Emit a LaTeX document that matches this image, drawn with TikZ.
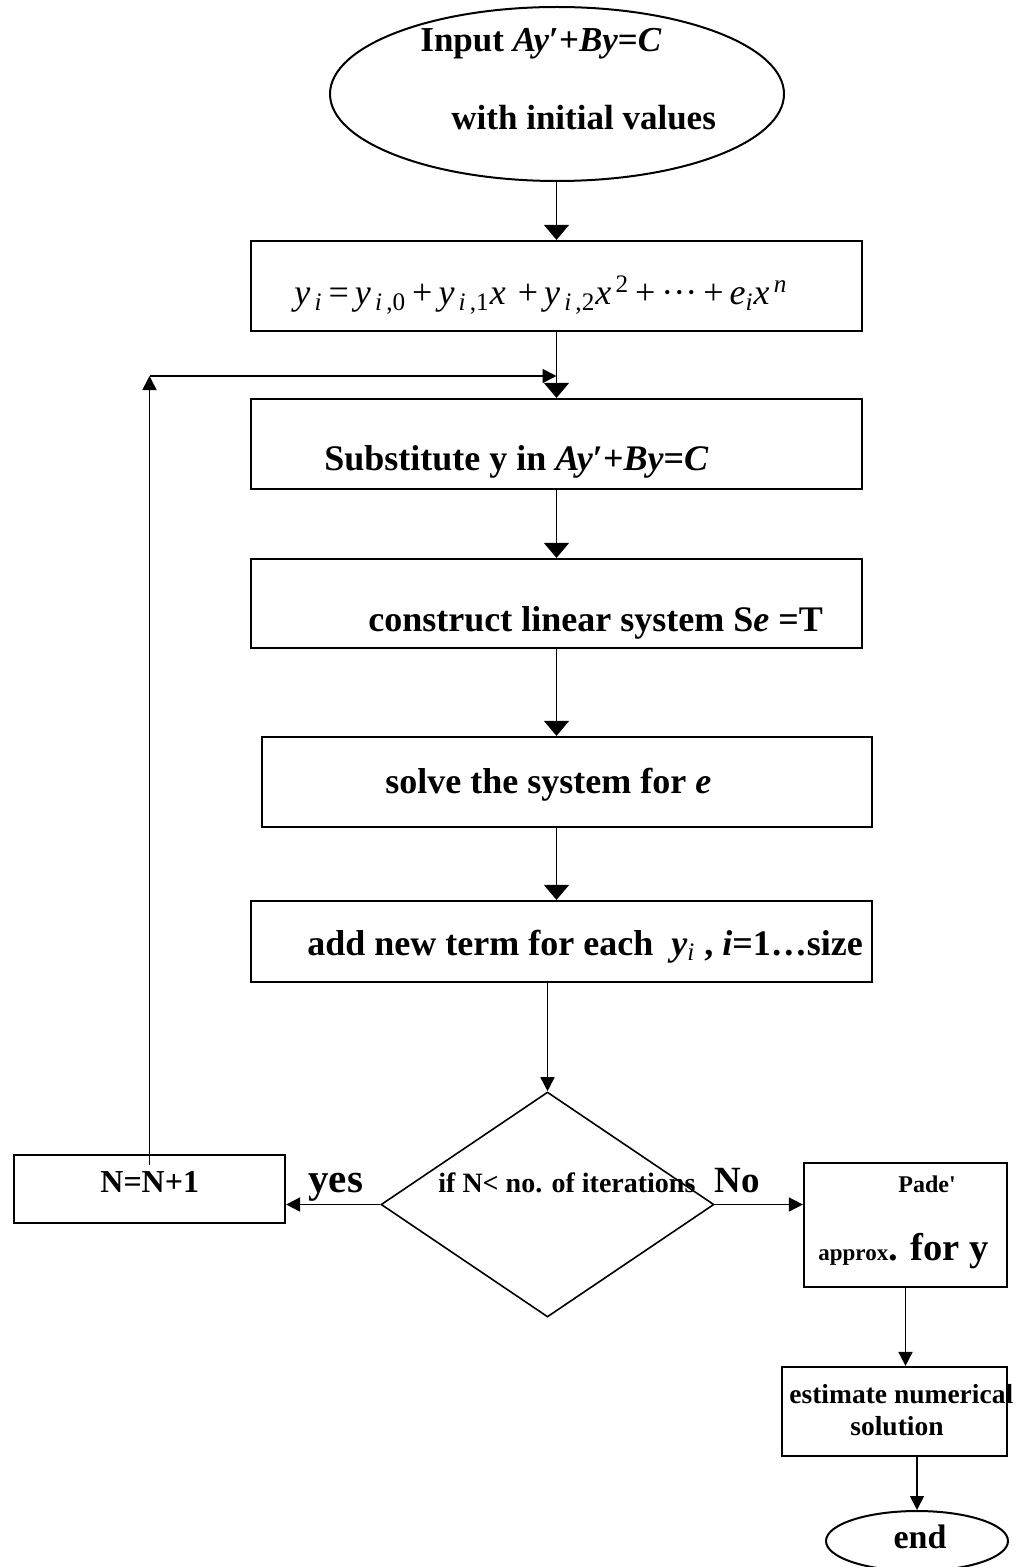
\documentclass[tikz,border=0pt]{standalone}
\usepackage{fontspec}
\setmainfont{Liberation Serif}
\usetikzlibrary{shapes.geometric,arrows.meta,calc}
\newcommand{\fsz}[1]{\fontsize{#1pt}{#1pt}\selectfont}
\newcommand{\vi}[1]{\textit{#1}}
\begin{document}
\begin{tikzpicture}[x=0.5pt,y=-0.5pt,
  rbox/.style 2 args={draw,line width=1.1pt,inner sep=0pt,minimum width=#1*0.5pt,minimum height=#2*0.5pt},
  oval/.style 2 args={draw,ellipse,line width=1pt,inner sep=0pt,minimum width=#1*0.5pt,minimum height=#2*0.5pt},
  txt/.style={inner sep=0pt,anchor=base west},
  ctxt/.style={inner sep=0pt,anchor=base},
  arr/.style={line width=0.8pt,-{Triangle[length=7.5pt,width=12.5pt]}},
  sarr/.style={line width=0.8pt,-{Triangle[length=7pt,width=7pt]}}]
\useasboundingbox (0,0) rectangle (1018,1567);
% shapes
\node[oval={454}{174}] (start) at (557,94) {};
\node[rbox={611}{90}] (b1) at (556.5,286) {};
\node[rbox={611}{90}] (b2) at (556.5,444) {};
\node[rbox={611}{89}] (b3) at (556.5,603.5) {};
\node[rbox={610}{90}] (b4) at (567,782) {};
\node[rbox={621}{81}] (b5) at (561.5,941.5) {};
\node[draw,diamond,line width=0.8pt,inner sep=0pt,minimum width=333*0.5pt,minimum height=225*0.5pt] (dia) at (547.5,1204.5) {};
\node[rbox={271}{68}] (nbox) at (149.5,1189) {};
\node[rbox={203}{124}] (pade) at (905.5,1225) {};
\node[rbox={225}{89}] (est) at (894.5,1411.5) {};
\node[oval={182}{60}] (end) at (917,1541) {};
% texts
\node[txt,font=\fsz{17.5}\bfseries] (t1) at (420,52) {Input \vi{Ay}′+\vi{By}=\vi{C}};
\node[txt,font=\fsz{17.5}\bfseries] (t2) at (451,130) {with initial values};
\node[txt,font=\fsz{18}] (t3) at (294,305) {\vi{y}\textsubscript{\,\vi{i}}\,=\,\vi{y}\textsubscript{\,\vi{i}\,,0}\,+\,\vi{y}\textsubscript{\,\vi{i}\,,1}\vi{x}\,\,+\,\vi{y}\textsubscript{\,\vi{i}\,,2}\vi{x}\textsuperscript{\,2}\,+\,···\,+\,\vi{e}\textsubscript{\vi{i}}\vi{x}\textsuperscript{\,\vi{n}}};
\node[txt,font=\fsz{18}\bfseries] (t4) at (324,470) {Substitute y in \vi{Ay}′+\vi{By}=\vi{C}};
\node[txt,font=\fsz{18}\bfseries] (t5) at (368,631) {construct linear system S\vi{e} =T};
\node[txt,font=\fsz{18}\bfseries] (t6) at (385,793) {solve the system for \vi{e}};
\node[txt,font=\fsz{18}\bfseries] (t7) at (307,955) {add new term for each \ {\vi{y}\textsubscript{\mdseries\vi{i}}} , \vi{i}=1…size};
\node[txt,font=\fsz{16}\bfseries] (t8) at (100,1192) {N=N+1};
\node[txt,font=\fsz{20.5}\bfseries] (t9) at (308,1192) {yes};
\node[txt,font=\fsz{14}\bfseries] (t10) at (438,1192) {if N< no. of iterations};
\node[txt,font=\fsz{18.5}\bfseries] (t11) at (714,1192) {No};
\node[txt,font=\fsz{12}\bfseries] (t12) at (898,1192) {Pade\textquotesingle};
\node[txt,font=\bfseries] (t13) at (818,1260) {{\fsz{11.5}approx}{\fsz{19.3}. for y}};
\node[txt,font=\fsz{13.75}\bfseries] (t14) at (789,1403) {estimate numerical};
\node[ctxt,font=\fsz{13.75}\bfseries] (t15) at (897,1435) {solution};
\node[ctxt,font=\fsz{17}\bfseries] (t16) at (920,1548) {end};
% connectors
\coordinate (loopstart) at ($(nbox.north)+(0,11)$);
\coordinate (corner) at (nbox.north |- 0,376);
\draw[arr] (start.south -| b1.north) -- (b1.north);
\draw[arr] (b1.south) -- (b2.north);
\draw[sarr] (loopstart) -- (corner);
\draw[sarr] (corner) -- (corner -| b2.north);
\draw[arr] (b2.south) -- (b3.north);
\draw[arr] (b3.south) -- (b3.south |- b4.north);
\draw[arr] (b3.south |- b4.south) -- (b3.south |- b5.north);
\draw[sarr] (dia.north |- b5.south) -- (dia.north);
\draw[sarr] (dia.west) -- (dia.west -| nbox.east);
\draw[sarr] (dia.east) -- (dia.east -| pade.west);
\draw[sarr] (pade.south) -- (pade.south |- est.north);
\draw[sarr] (end.north |- est.south) -- (end.north);
\end{tikzpicture}
\end{document}
